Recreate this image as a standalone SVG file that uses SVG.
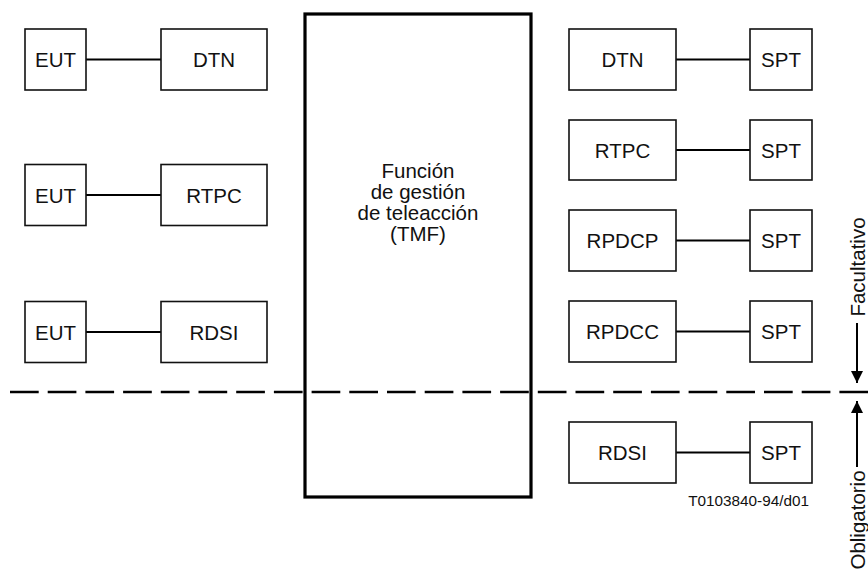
<svg xmlns="http://www.w3.org/2000/svg" width="868" height="569" viewBox="0 0 868 569">
<defs>
<style>
.box{fill:#fff;stroke:#111;stroke-width:1.6}
.big{fill:none;stroke:#000;stroke-width:3.2}
.t{font-family:"Liberation Sans",Arial,sans-serif;font-size:20.5px;fill:#111;text-anchor:middle}
.c{stroke:#000;stroke-width:2;fill:none}
.dash{stroke:#000;stroke-width:2.7;stroke-dasharray:28.7 9;fill:none}
</style>
<marker id="ah" viewBox="0 0 12 12" refX="12" refY="6" markerWidth="12" markerHeight="12" markerUnits="userSpaceOnUse" orient="auto">
<path d="M0,0 L12,6 L0,12 Z" fill="#000"/>
</marker>
</defs>
<rect width="868" height="569" fill="#fff"/>
<g id="connectors">
<line class="c" x1="86" y1="59.5" x2="161" y2="59.5"/>
<line class="c" x1="86" y1="195" x2="161" y2="195"/>
<line class="c" x1="86" y1="332" x2="161" y2="332"/>
<line class="c" x1="676" y1="59.5" x2="750" y2="59.5"/>
<line class="c" x1="676" y1="150" x2="750" y2="150"/>
<line class="c" x1="676" y1="240.5" x2="750" y2="240.5"/>
<line class="c" x1="676" y1="331.5" x2="750" y2="331.5"/>
<line class="c" x1="676" y1="452.5" x2="750" y2="452.5"/>
<line class="dash" x1="10" y1="392" x2="868" y2="392"/>
<line class="c" x1="857" y1="323" x2="857" y2="383" stroke-width="1.5" marker-end="url(#ah)"/>
<line class="c" x1="857" y1="467" x2="857" y2="401" stroke-width="1.5" marker-end="url(#ah)"/>
</g>
<g id="tmf">
<rect class="big" x="305" y="14" width="226" height="483"/>
<text class="t" x="418" y="178">Función</text>
<text class="t" x="418" y="199">de gestión</text>
<text class="t" x="418" y="220">de teleacción</text>
<text class="t" x="418" y="241">(TMF)</text>
</g>
<g id="eut1"><rect class="box" x="25" y="29" width="61" height="61"/><text class="t" x="55.5" y="67">EUT</text></g>
<g id="dtn1"><rect class="box" x="161" y="29" width="106" height="61"/><text class="t" x="214" y="67">DTN</text></g>
<g id="eut2"><rect class="box" x="25" y="164.5" width="61" height="61"/><text class="t" x="55.5" y="202.5">EUT</text></g>
<g id="rtpc1"><rect class="box" x="161" y="164.5" width="106" height="61"/><text class="t" x="214" y="202.5">RTPC</text></g>
<g id="eut3"><rect class="box" x="25" y="301.5" width="61" height="61"/><text class="t" x="55.5" y="339.5">EUT</text></g>
<g id="rdsi1"><rect class="box" x="161" y="301.5" width="106" height="61"/><text class="t" x="214" y="339.5">RDSI</text></g>
<g id="dtn2"><rect class="box" x="569" y="29" width="107" height="61"/><text class="t" x="622.5" y="67">DTN</text></g>
<g id="spt1"><rect class="box" x="750" y="29" width="62" height="61"/><text class="t" x="781" y="67">SPT</text></g>
<g id="rtpc2"><rect class="box" x="569" y="120" width="107" height="60"/><text class="t" x="622.5" y="157.5">RTPC</text></g>
<g id="spt2"><rect class="box" x="750" y="120" width="62" height="60"/><text class="t" x="781" y="157.5">SPT</text></g>
<g id="rpdcp"><rect class="box" x="569" y="210" width="107" height="61"/><text class="t" x="622.5" y="248">RPDCP</text></g>
<g id="spt3"><rect class="box" x="750" y="210" width="62" height="61"/><text class="t" x="781" y="248">SPT</text></g>
<g id="rpdcc"><rect class="box" x="569" y="301" width="107" height="61"/><text class="t" x="622.5" y="339">RPDCC</text></g>
<g id="spt4"><rect class="box" x="750" y="301" width="62" height="61"/><text class="t" x="781" y="339">SPT</text></g>
<g id="rdsi2"><rect class="box" x="569" y="422" width="107" height="61"/><text class="t" x="622.5" y="460">RDSI</text></g>
<g id="spt5"><rect class="box" x="750" y="422" width="62" height="61"/><text class="t" x="781" y="460">SPT</text></g>
<g id="labels">
<text class="t" transform="translate(865,267) rotate(-90)">Facultativo</text>
<text class="t" transform="translate(865,520) rotate(-90)">Obligatorio</text>
<text x="809" y="506" font-family="'Liberation Sans',Arial,sans-serif" font-size="15.3" fill="#111" text-anchor="end">T0103840-94/d01</text>
</g>
</svg>
